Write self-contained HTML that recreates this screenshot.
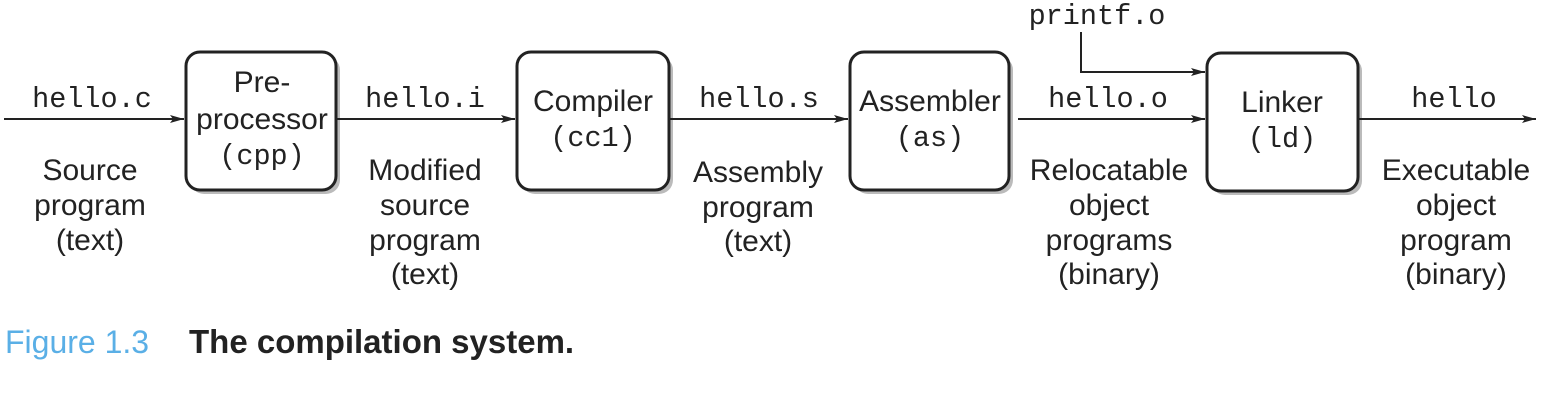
<!DOCTYPE html>
<html><head><meta charset="utf-8"><style>
html,body{margin:0;padding:0;background:#fff;}
svg{display:block;}
.m{font-family:"Liberation Mono",monospace;font-size:28.5px;fill:#222;}
.s{font-family:"Liberation Sans",sans-serif;font-size:30px;fill:#222;}
</style></head><body>
<svg width="1556" height="402" viewBox="0 0 1556 402" xmlns="http://www.w3.org/2000/svg">
<defs><marker id="a" markerWidth="14" markerHeight="8" refX="14" refY="4" orient="auto" markerUnits="userSpaceOnUse"><path d="M0,0 L14,4 L0,8 L3,4 z" fill="#222"/></marker></defs>
<g fill="#bbb">
<rect x="190" y="56" width="150" height="138" rx="14"/>
<rect x="521" y="56" width="152" height="138" rx="14"/>
<rect x="854" y="56" width="159" height="138" rx="14"/>
<rect x="1211" y="57" width="151" height="138" rx="14"/>
</g>
<g fill="#fff" stroke="#222" stroke-width="3">
<rect x="186" y="52" width="150" height="138" rx="14"/>
<rect x="517" y="52" width="152" height="138" rx="14"/>
<rect x="850" y="52" width="159" height="138" rx="14"/>
<rect x="1207" y="53" width="151" height="138" rx="14"/>
</g>
<g stroke="#222" stroke-width="2" fill="none" marker-end="url(#a)">
<line x1="4" y1="119" x2="184" y2="119"/>
<line x1="337" y1="119" x2="515" y2="119"/>
<line x1="670" y1="119" x2="848" y2="119"/>
<line x1="1018" y1="119" x2="1205" y2="119"/>
<line x1="1359" y1="119" x2="1536" y2="119"/>
<polyline points="1081,32 1081,72 1205,72"/>
</g>
<g class="m" text-anchor="middle">
<text x="92" y="107">hello.c</text>
<text x="425" y="107">hello.i</text>
<text x="759" y="107">hello.s</text>
<text x="1108" y="107">hello.o</text>
<text x="1454" y="107">hello</text>
<text x="1097" y="24">printf.o</text>
<text x="262" y="164">(cpp)</text>
<text x="593" y="146">(cc1)</text>
<text x="930" y="146">(as)</text>
<text x="1282" y="147">(ld)</text>
</g>
<g class="s" text-anchor="middle">
<text x="262" y="92">Pre-</text>
<text x="262" y="129">processor</text>
<text x="593" y="111">Compiler</text>
<text x="930" y="111">Assembler</text>
<text x="1282" y="112">Linker</text>
<text x="90" y="180">Source</text><text x="90" y="215">program</text><text x="90" y="250">(text)</text>
<text x="425" y="180">Modified</text><text x="425" y="215">source</text><text x="425" y="250">program</text><text x="425" y="284">(text)</text>
<text x="758" y="182">Assembly</text><text x="758" y="217">program</text><text x="758" y="251">(text)</text>
<text x="1109" y="180">Relocatable</text><text x="1109" y="215">object</text><text x="1109" y="250">programs</text><text x="1109" y="284">(binary)</text>
<text x="1456" y="180">Executable</text><text x="1456" y="215">object</text><text x="1456" y="250">program</text><text x="1456" y="284">(binary)</text>
</g>
<text x="5" y="353" font-family="Liberation Sans,sans-serif" font-size="32" fill="#5aafe6">Figure 1.3</text>
<text x="189" y="353" font-family="Liberation Sans,sans-serif" font-size="33" font-weight="bold" fill="#222">The compilation system.</text>
</svg>
</body></html>
